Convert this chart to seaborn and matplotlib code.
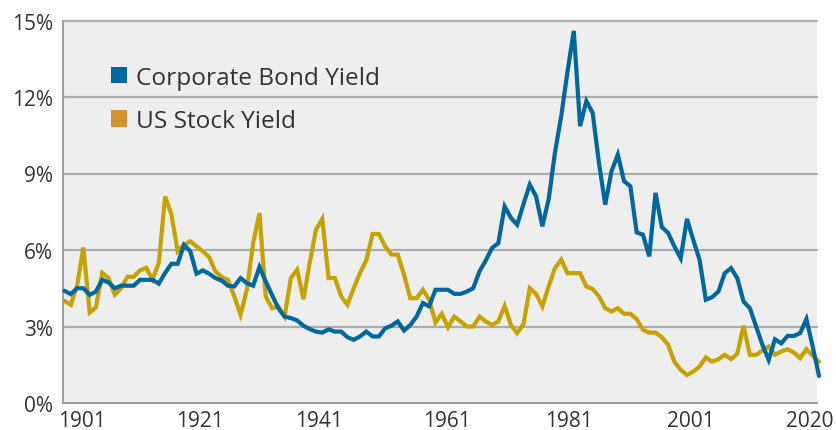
import numpy as np
import pandas as pd
import seaborn as sns
import matplotlib.pyplot as plt
from matplotlib.patches import Patch

# ======================
# data
# ======================
years = list(range(1900, 2021))

bond_yield = [
    4.4, 4.27, 4.5, 4.5, 4.24, 4.37, 4.83, 4.73, 4.5, 4.6,
    4.6, 4.6, 4.83, 4.83, 4.83, 4.68, 5.1, 5.46, 5.46, 6.2,
    5.95, 5.07, 5.2, 5.07, 4.9, 4.8, 4.6, 4.57, 4.9, 4.7,
    4.6, 5.33, 4.77, 4.24, 3.72, 3.39, 3.33, 3.24, 3.03, 2.9,
    2.8, 2.76, 2.89, 2.8, 2.8, 2.58, 2.48, 2.61, 2.8, 2.61,
    2.61, 2.93, 3.03, 3.2, 2.84, 3.06, 3.39, 3.92, 3.79, 4.44,
    4.44, 4.44, 4.28, 4.28, 4.37, 4.5, 5.16, 5.59, 6.08, 6.27,
    7.71, 7.26, 6.99, 7.8, 8.57, 8.1, 6.93, 7.98, 9.81, 11.25,
    13.0, 14.59, 10.86, 11.84, 11.38, 9.42, 7.78, 9.09, 9.74, 8.7,
    8.5, 6.69, 6.6, 5.75, 8.24, 6.9, 6.67, 6.14, 5.68, 7.22,
    6.4, 5.62, 4.05, 4.15, 4.37, 5.09, 5.29, 4.9, 3.98, 3.72,
    3.0, 2.28, 1.69, 2.5, 2.34, 2.63, 2.63, 2.74, 3.29, 2.21,
    1.06,
]

stock_yield = [
    4.0, 3.85, 4.6, 6.1, 3.55, 3.75, 5.1, 4.9, 4.25, 4.5,
    4.95, 4.95, 5.2, 5.3, 4.85, 5.5, 8.1, 7.4, 5.95, 6.2,
    6.34, 6.14, 5.95, 5.72, 5.16, 4.94, 4.83, 4.18, 3.46, 4.44,
    6.27, 7.45, 4.18, 3.72, 3.78, 3.39, 4.9, 5.23, 4.07, 5.5,
    6.8, 7.22, 4.9, 4.9, 4.18, 3.85, 4.5, 5.1, 5.6, 6.63,
    6.63, 6.14, 5.82, 5.82, 5.03, 4.11, 4.11, 4.44, 4.05, 3.16,
    3.5, 2.97, 3.39, 3.2, 3.0, 3.0, 3.39, 3.2, 3.06, 3.2,
    3.81, 3.06, 2.74, 3.1, 4.5, 4.28, 3.79, 4.57, 5.29, 5.62,
    5.09, 5.09, 5.09, 4.57, 4.47, 4.18, 3.72, 3.59, 3.72, 3.5,
    3.5, 3.29, 2.87, 2.76, 2.76, 2.58, 2.28, 1.62, 1.3, 1.1,
    1.23, 1.43, 1.79, 1.62, 1.72, 1.89, 1.72, 1.93, 3.03, 1.89,
    1.89, 2.06, 2.21, 1.89, 2.02, 2.11, 1.98, 1.76, 2.11, 1.85,
    1.62,
]

series_names = ["Corporate Bond Yield", "US Stock Yield"]
line_colors = ["#0067a0", "#c7a200"]
legend_colors = ["#0066a1", "#d4902f"]

y_ticks = [0, 3, 6, 9, 12, 15]
y_labels = ["0%", "3%", "6%", "9%", "12%", "15%"]
x_tick_pos = [1902.8, 1921.55, 1940.5, 1960.8, 1980.2, 1999.6, 2018.6]
x_tick_labels = ["1901", "1921", "1941", "1961", "1981", "2001", "2020"]

df = pd.DataFrame({
    "Year": years * 2,
    "Yield": bond_yield + stock_yield,
    "Series": [series_names[0]] * len(years) + [series_names[1]] * len(years),
})

# ======================
# plot
# ======================
sns.set_theme(style="white")
plt.rcParams["font.family"] = ["Open Sans", "DejaVu Sans"]

fig = plt.figure(figsize=(8.37, 4.31), dpi=100)
ax = fig.add_axes([63 / 837, 1 - 404 / 431, (817.3 - 63) / 837, (404 - 21.5) / 431])
ax.set_facecolor("#eeeeee")

for y in y_ticks[1:]:
    ax.axhline(y, color="#acacac", lw=1.6, zorder=1)

# stock drawn first so the bond line sits on top
sns.lineplot(data=df, x="Year", y="Yield", hue="Series",
             hue_order=[series_names[1], series_names[0]],
             palette=dict(zip(series_names, line_colors)),
             linewidth=3.0, legend=False, ax=ax, zorder=3)
for ln in ax.lines:
    ln.set_clip_on(False)
    ln.set_solid_joinstyle("miter")

ax.set_xlim(1899.76, 2019.73)
ax.set_ylim(0, 15)
ax.set_yticks(y_ticks)
ax.set_yticklabels(y_labels)
ax.set_xticks(x_tick_pos)
ax.set_xticklabels(x_tick_labels)
ax.set_xlabel("")
ax.set_ylabel("")
ax.tick_params(axis="both", length=0, labelsize=15, colors="#333333")
ax.tick_params(axis="y", pad=7)
ax.tick_params(axis="x", pad=5)

for side in ["top", "right"]:
    ax.spines[side].set_visible(False)
for side in ["left", "bottom"]:
    ax.spines[side].set_color("#a0a0a0")
    ax.spines[side].set_linewidth(1.5)

handles = [Patch(facecolor=c, edgecolor="none") for c in legend_colors]
leg = ax.legend(handles, series_names, loc="upper left",
                bbox_to_anchor=(0.063, 0.882), frameon=False, fontsize=17.6,
                handlelength=0.66, handleheight=0.66, handletextpad=0.38,
                labelspacing=0.8, borderpad=0, borderaxespad=0)
for t in leg.get_texts():
    t.set_color("#333333")

fig.savefig("out.png", dpi=100)
